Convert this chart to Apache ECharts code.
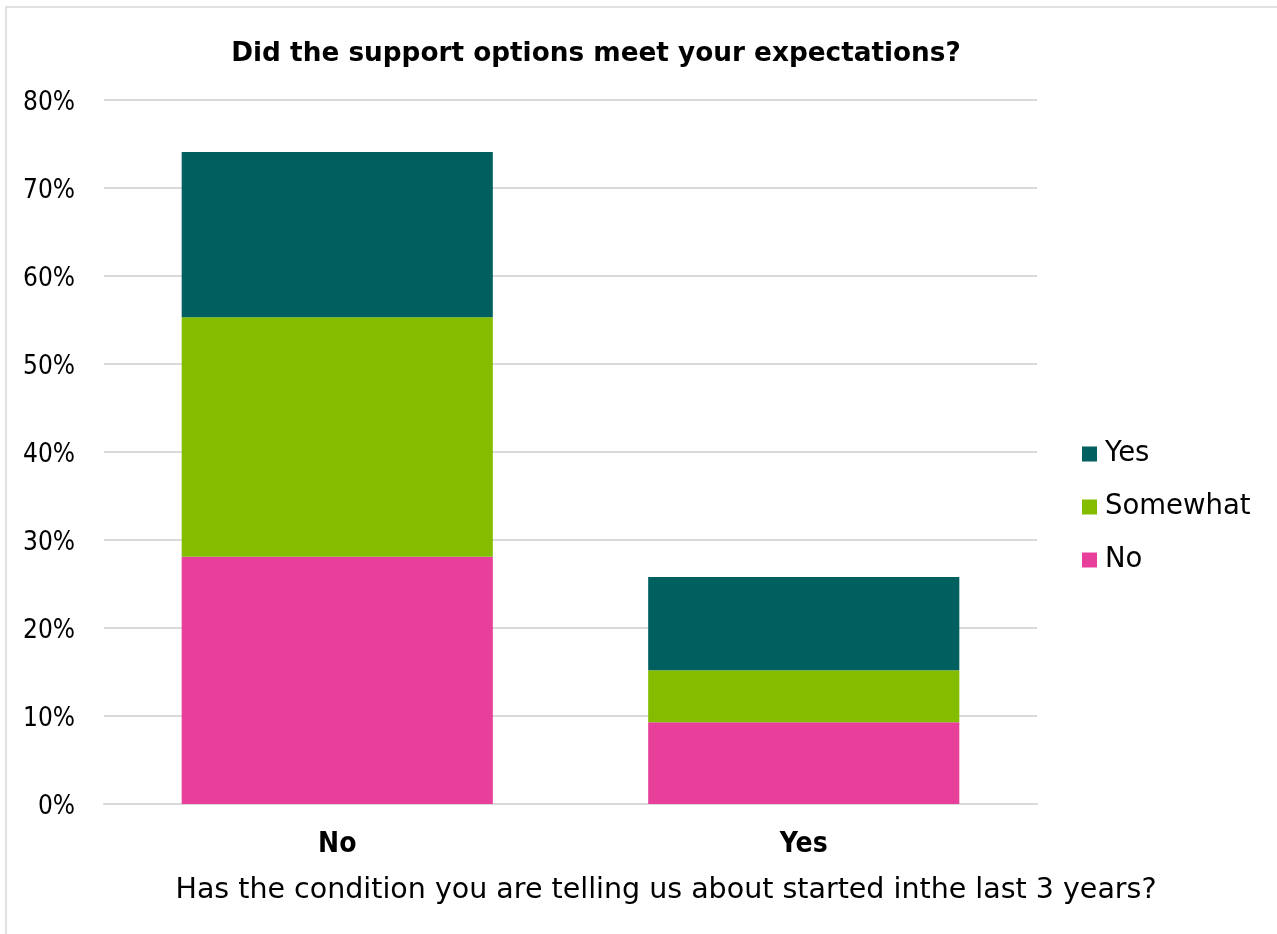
<!DOCTYPE html>
<html>
<head>
<meta charset="utf-8">
<script src="https://cdn.jsdelivr.net/npm/echarts@6/dist/echarts.min.js"></script>
<style>
  html, body { margin: 0; padding: 0; background: #fff; }
  #chart { width: 1277px; height: 934px; }
</style>
</head>
<body>
<div id="chart"></div>
<script>
// Survey answers split by whether the condition started in the last 3 years
const categories = ['No', 'Yes'];
const seriesNames = ['No', 'Somewhat', 'Yes'];
const valuesNo = [28.1, 9.3];
const valuesSomewhat = [27.2, 5.9];
const valuesYes = [18.8, 10.6];
const tickLabels = ['0%', '10%', '20%', '30%', '40%', '50%', '60%', '70%', '80%'];
const xAxisTitle = 'Has the condition you are telling us about started inthe last 3 years?';

const colors = { 'No': '#e8409a', 'Somewhat': '#84bd00', 'Yes': '#005f5f' };
const values = { 'No': valuesNo, 'Somewhat': valuesSomewhat, 'Yes': valuesYes };
const FONT = '"DejaVu Sans", sans-serif';
const FONT_NARROW = '"DejaVu Sans Condensed", "DejaVu Sans", sans-serif';

const chart = echarts.init(document.getElementById('chart'));
chart.setOption({
  animation: false,
  backgroundColor: '#fff',
  graphic: [
    {
      type: 'rect',
      shape: { x: 6, y: 7, width: 1290, height: 960 },
      style: { fill: 'none', stroke: '#d9d9d9', lineWidth: 1.5 },
      silent: true
    },
    {
      // x-axis title, centred on the whole chart box rather than the plot
      type: 'text',
      x: 666, y: 891,
      style: {
        text: xAxisTitle,
        fontFamily: FONT, fontSize: 28.5, fill: '#000',
        align: 'center', verticalAlign: 'middle'
      },
      silent: true
    }
  ],
  title: {
    text: 'Did the support options meet your expectations?',
    left: 591, top: 36, textAlign: 'center',
    textStyle: { fontFamily: FONT, fontSize: 26.3, fontWeight: 'bold', color: '#000' }
  },
  legend: {
    orient: 'vertical',
    left: 1077, top: 435,
    itemWidth: 15, itemHeight: 15, itemGap: 25,
    icon: 'rect',
    data: ['Yes', 'Somewhat', 'No'],
    textStyle: { fontFamily: FONT, fontSize: 27.5, color: '#000', padding: [0, 0, 0, 3] }
  },
  grid: { left: 104, right: 240, top: 100, bottom: 130, containLabel: false },
  xAxis: {
    type: 'category',
    data: categories,
    axisLine: { lineStyle: { color: '#d9d9d9', width: 2 } },
    axisTick: { show: false },
    axisLabel: { fontFamily: FONT_NARROW, fontSize: 28, fontWeight: 'bold', color: '#000', margin: 27 }
  },
  yAxis: {
    type: 'value',
    min: 0, max: 80, interval: 10,
    axisLine: { show: false },
    axisTick: { show: false },
    splitLine: { lineStyle: { color: '#d9d9d9', width: 2 } },
    axisLabel: {
      margin: 29,
      formatter: v => '{t|' + tickLabels[Math.round(v / 10)] + '}',
      rich: {
        t: { fontFamily: FONT_NARROW, fontSize: 26, color: '#000', padding: [6, 0, 0, 0] }
      }
    }
  },
  series: seriesNames.map(name => ({
    name,
    type: 'bar',
    stack: 'total',
    barWidth: '66.7%',
    data: values[name],
    itemStyle: { color: colors[name] }
  }))
});
</script>
</body>
</html>
